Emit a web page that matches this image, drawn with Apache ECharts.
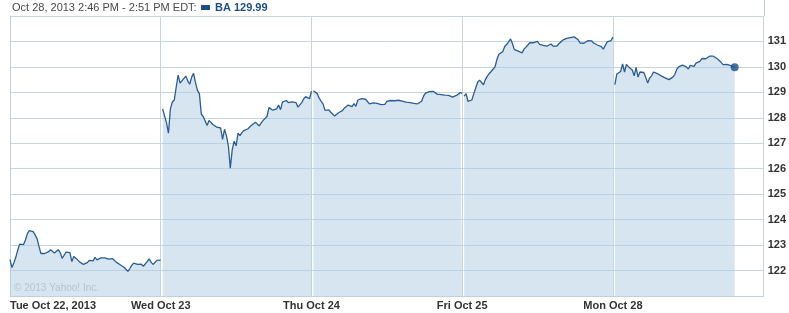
<!DOCTYPE html>
<html>
<head>
<meta charset="utf-8">
<script src="https://cdn.jsdelivr.net/npm/echarts@6/dist/echarts.min.js"></script>
<style>html,body{margin:0;padding:0;background:#fff;}#c{width:789px;height:313px;}</style>
</head>
<body>
<div id="c"></div>
<script>
// 5-minute closes per trading day (points at 9:35 ... 16:00); Tue also has the 9:30 open
const dayLabels = ['Tue Oct 22, 2013', 'Wed Oct 23', 'Thu Oct 24', 'Fri Oct 25', 'Mon Oct 28'];
const tueOpen = 122.43;
const tue = [122.12,122.3,122.52,122.8,123.04,123.02,123.02,123.2,123.45,123.57,123.57,123.53,123.4,123.25,122.95,122.67,122.66,122.67,122.67,122.74,122.82,122.8,122.69,122.73,122.82,122.7,122.48,122.6,122.72,122.73,122.7,122.35,122.55,122.56,122.42,122.34,122.35,122.24,122.31,122.31,122.4,122.44,122.38,122.52,122.42,122.47,122.5,122.43,122.5,122.45,122.45,122.48,122.47,122.4,122.33,122.27,122.23,122.19,122.13,122.07,121.97,122.08,122.2,122.29,122.25,122.24,122.25,122.25,122.17,122.15,122.35,122.46,122.33,122.24,122.28,122.4,122.43,122.41];
const wed = [128.35,128.42,127.8,127.4,128.35,128.62,128.7,129.2,129.68,129.36,129.36,129.55,129.64,129.45,129.32,129.6,129.75,129.38,129.08,128.95,128.15,128.05,128.0,127.7,127.9,127.88,127.74,127.68,127.63,127.68,127.6,127.15,127.55,127.3,126.9,126.02,126.75,127.08,126.9,127.4,127.3,127.42,127.5,127.52,127.56,127.62,127.71,127.76,127.83,127.82,127.68,127.8,127.9,127.85,128.05,128.4,128.34,128.3,128.3,128.35,128.5,128.32,128.62,128.58,128.68,128.6,128.64,128.63,128.62,128.6,128.42,128.42,128.6,128.75,128.83,128.83,128.75,129.05];
const thu = [129.06,129.05,128.95,128.77,128.65,128.55,128.29,128.25,128.31,128.22,128.28,128.07,128.1,128.2,128.21,128.28,128.38,128.36,128.5,128.55,128.44,128.56,128.45,128.7,128.73,128.75,128.77,128.73,128.66,128.55,128.55,128.59,128.6,128.57,128.6,128.52,128.5,128.53,128.65,128.7,128.68,128.7,128.67,128.64,128.69,128.67,128.66,128.68,128.62,128.57,128.6,128.58,128.57,128.57,128.55,128.56,128.65,128.85,128.97,129.0,129.03,129.03,129.04,129.04,128.93,128.96,128.91,128.92,128.89,128.87,128.88,128.83,128.81,128.84,128.88,128.9,128.99,128.96];
const fri = [128.85,128.95,128.65,128.6,128.7,128.95,129.17,129.4,129.48,129.43,129.3,129.5,129.64,129.74,129.82,129.89,130.0,130.3,130.5,130.54,130.6,130.8,130.88,130.98,131.1,130.92,130.68,130.64,130.62,130.56,130.55,130.7,130.77,130.86,130.95,130.98,130.95,130.98,131.0,130.89,130.83,130.85,130.85,130.82,130.81,130.9,130.82,130.76,130.82,130.91,130.98,131.05,131.09,131.12,131.1,131.15,131.2,131.18,131.12,131.07,130.94,130.91,130.93,130.97,131.03,131.06,131.02,130.94,130.89,130.86,130.83,130.8,130.7,130.7,130.98,131.02,131.03,131.17];
const mon = [129.3,129.72,129.72,129.82,130.12,129.8,130.1,130.01,129.98,129.88,129.65,129.98,129.6,129.8,129.75,129.78,129.58,129.37,129.56,129.65,129.8,129.84,129.74,129.68,129.65,129.63,129.57,129.51,129.5,129.55,129.6,129.7,129.9,130.0,130.06,130.07,130.02,130.0,129.92,130.06,130.0,130.02,130.15,130.2,130.22,130.33,130.36,130.32,130.38,130.42,130.47,130.42,130.37,130.32,130.27,130.18,130.09,130.14,130.1,130.06,130.05,130.05,129.99];
const days = [tue, wed, thu, fri, mon];
const pointsPerDay = 78;
const seriesName = 'BA 129.99';
const headerText = 'Oct 28, 2013 2:46 PM - 2:51 PM EDT:';
const yMin = 121, yMax = 132;

const FONT = "'Liberation Sans', Arial, sans-serif";
const series = days.map((vals, d) => {
  const pts = vals.map((v, i) => [d * pointsPerDay + i + 1, v]);
  if (d === 0) pts.unshift([0, tueOpen]);
  return {
    name: seriesName,
    type: 'line',
    showSymbol: false,
    silent: true,
    data: pts,
    lineStyle: { color: '#2b5d92', width: 1.3 },
    itemStyle: { color: '#2b5d92' },
    areaStyle: { color: '#aecbe1', opacity: 0.5 },
    z: 3
  };
});
const lastDay = days.length - 1;
const lastVals = days[lastDay];
series.push({
  name: 'last',
  type: 'scatter',
  symbolSize: 8,
  silent: true,
  data: [[lastDay * pointsPerDay + lastVals.length, lastVals[lastVals.length - 1]]],
  itemStyle: { color: '#1d4f86' },
  z: 5
});

const chart = echarts.init(document.getElementById('c'), null, { renderer: 'canvas' });
chart.setOption({
  animation: false,
  backgroundColor: '#fff',
  title: {
    text: headerText,
    left: 12, top: 2, padding: 0,
    textStyle: { fontFamily: FONT, fontSize: 11, fontWeight: 'normal', color: '#4a4a4a' }
  },
  legend: {
    data: [{ name: seriesName, icon: 'rect', itemStyle: { color: '#1d4f86' } }],
    left: 201, top: 2, itemWidth: 9, itemHeight: 5, padding: 0,
    selectedMode: false,
    textStyle: { fontFamily: FONT, fontSize: 11, fontWeight: 'bold', color: '#1d4f86' }
  },
  grid: { left: 10, right: 25, top: 16, bottom: 17 },
  xAxis: {
    type: 'value', min: 0, max: days.length * pointsPerDay, interval: pointsPerDay,
    axisLine: { show: true, lineStyle: { color: '#c3d0da' } },
    axisTick: { show: false },
    splitLine: { show: true, lineStyle: { color: '#c8d5df' } },
    axisLabel: {
      margin: 4, alignMinLabel: 'left',
      fontFamily: FONT, fontSize: 11, fontWeight: 'bold', color: '#333',
      formatter: v => dayLabels[Math.round(v / pointsPerDay)] || ''
    }
  },
  yAxis: {
    type: 'value', position: 'right', min: yMin, max: yMax, interval: 1,
    axisLine: { show: true, lineStyle: { color: '#c3d0da' } },
    axisTick: { show: false },
    splitLine: { show: true, lineStyle: { color: '#c8d5df' } },
    axisLabel: {
      margin: 4, fontFamily: FONT, fontSize: 11, fontWeight: 'bold', color: '#333',
      formatter: v => (v === yMin || v === yMax) ? '' : String(v)
    }
  },
  graphic: [
    { type: 'text', left: 14, top: 283, silent: true,
      style: { text: '© 2013 Yahoo! Inc.', font: "10px 'Liberation Sans', Arial, sans-serif", fill: '#b7c4cf' }, z: 10 },
    { type: 'line', silent: true, shape: { x1: 764.5, y1: 0, x2: 764.5, y2: 16 }, style: { stroke: '#c3d0da', lineWidth: 1 } }
  ],
  series: series
});
</script>
</body>
</html>
